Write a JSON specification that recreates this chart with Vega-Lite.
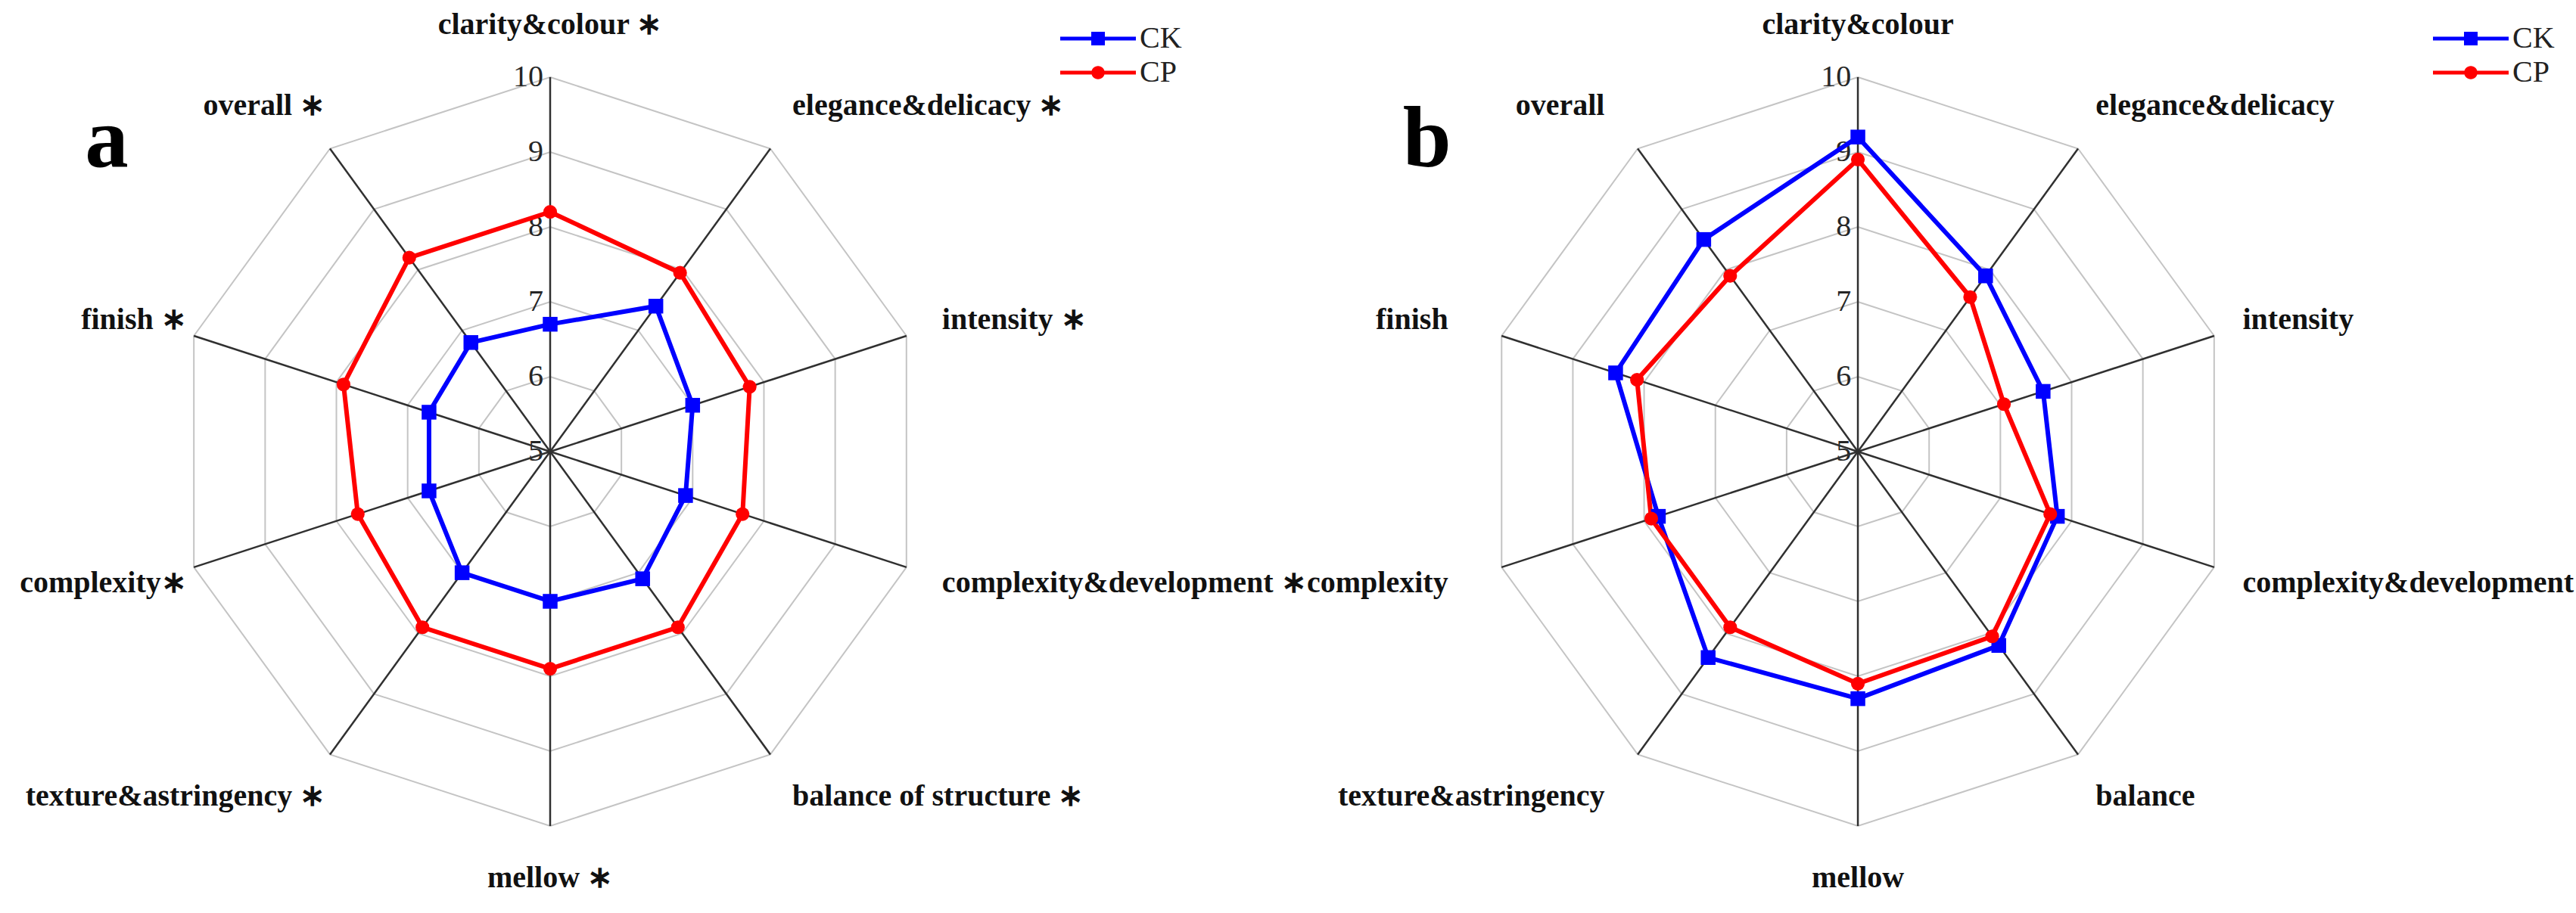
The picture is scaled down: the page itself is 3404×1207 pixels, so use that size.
{
  "$schema": "https://vega.github.io/schema/vega-lite/v6.json",
  "background": "white",
  "padding": 0,
  "spacing": 0,
  "config": {"view": {"stroke": null}, "text": {"font": "Liberation Serif"}, "concat": {"spacing": 0}},
  "resolve": {
    "scale": {"x": "independent", "y": "independent", "color": "independent", "shape": "independent"},
    "legend": {"color": "independent", "shape": "independent"}
  },
  "datasets": {
    "cats": [
      {"panel": "a", "idx": 0, "label": "clarity&colour  ∗"},
      {"panel": "a", "idx": 1, "label": "elegance&delicacy ∗"},
      {"panel": "a", "idx": 2, "label": "intensity ∗"},
      {"panel": "a", "idx": 3, "label": "complexity&development ∗"},
      {"panel": "a", "idx": 4, "label": "balance of  structure ∗"},
      {"panel": "a", "idx": 5, "label": "mellow ∗"},
      {"panel": "a", "idx": 6, "label": "texture&astringency ∗"},
      {"panel": "a", "idx": 7, "label": "complexity∗"},
      {"panel": "a", "idx": 8, "label": "finish ∗"},
      {"panel": "a", "idx": 9, "label": "overall ∗"},
      {"panel": "b", "idx": 0, "label": "clarity&colour"},
      {"panel": "b", "idx": 1, "label": "elegance&delicacy"},
      {"panel": "b", "idx": 2, "label": "intensity"},
      {"panel": "b", "idx": 3, "label": "complexity&development"},
      {"panel": "b", "idx": 4, "label": "balance"},
      {"panel": "b", "idx": 5, "label": "mellow"},
      {"panel": "b", "idx": 6, "label": "texture&astringency"},
      {"panel": "b", "idx": 7, "label": "complexity"},
      {"panel": "b", "idx": 8, "label": "finish"},
      {"panel": "b", "idx": 9, "label": "overall"}
    ],
    "rings": [
      {"idx": 0, "ring": [6, 7, 8, 9, 10]},
      {"idx": 1, "ring": [6, 7, 8, 9, 10]},
      {"idx": 2, "ring": [6, 7, 8, 9, 10]},
      {"idx": 3, "ring": [6, 7, 8, 9, 10]},
      {"idx": 4, "ring": [6, 7, 8, 9, 10]},
      {"idx": 5, "ring": [6, 7, 8, 9, 10]},
      {"idx": 6, "ring": [6, 7, 8, 9, 10]},
      {"idx": 7, "ring": [6, 7, 8, 9, 10]},
      {"idx": 8, "ring": [6, 7, 8, 9, 10]},
      {"idx": 9, "ring": [6, 7, 8, 9, 10]}
    ],
    "ticks": [{"v": 5}, {"v": 6}, {"v": 7}, {"v": 8}, {"v": 9}, {"v": 10}],
    "scores": [
      {"panel": "a", "idx": 0, "group": "CK", "value": 6.7},
      {"panel": "a", "idx": 1, "group": "CK", "value": 7.4},
      {"panel": "a", "idx": 2, "group": "CK", "value": 7.0},
      {"panel": "a", "idx": 3, "group": "CK", "value": 6.9},
      {"panel": "a", "idx": 4, "group": "CK", "value": 7.1},
      {"panel": "a", "idx": 5, "group": "CK", "value": 7.0},
      {"panel": "a", "idx": 6, "group": "CK", "value": 7.0},
      {"panel": "a", "idx": 7, "group": "CK", "value": 6.7},
      {"panel": "a", "idx": 8, "group": "CK", "value": 6.7},
      {"panel": "a", "idx": 9, "group": "CK", "value": 6.8},
      {"panel": "a", "idx": 0, "group": "CP", "value": 8.2},
      {"panel": "a", "idx": 1, "group": "CP", "value": 7.95},
      {"panel": "a", "idx": 2, "group": "CP", "value": 7.8},
      {"panel": "a", "idx": 3, "group": "CP", "value": 7.7},
      {"panel": "a", "idx": 4, "group": "CP", "value": 7.9},
      {"panel": "a", "idx": 5, "group": "CP", "value": 7.9},
      {"panel": "a", "idx": 6, "group": "CP", "value": 7.9},
      {"panel": "a", "idx": 7, "group": "CP", "value": 7.7},
      {"panel": "a", "idx": 8, "group": "CP", "value": 7.9},
      {"panel": "a", "idx": 9, "group": "CP", "value": 8.2},
      {"panel": "b", "idx": 0, "group": "CK", "value": 9.2},
      {"panel": "b", "idx": 1, "group": "CK", "value": 7.9},
      {"panel": "b", "idx": 2, "group": "CK", "value": 7.6},
      {"panel": "b", "idx": 3, "group": "CK", "value": 7.8},
      {"panel": "b", "idx": 4, "group": "CK", "value": 8.2},
      {"panel": "b", "idx": 5, "group": "CK", "value": 8.3},
      {"panel": "b", "idx": 6, "group": "CK", "value": 8.4},
      {"panel": "b", "idx": 7, "group": "CK", "value": 7.8},
      {"panel": "b", "idx": 8, "group": "CK", "value": 8.4},
      {"panel": "b", "idx": 9, "group": "CK", "value": 8.5},
      {"panel": "b", "idx": 0, "group": "CP", "value": 8.9},
      {"panel": "b", "idx": 1, "group": "CP", "value": 7.55},
      {"panel": "b", "idx": 2, "group": "CP", "value": 7.05},
      {"panel": "b", "idx": 3, "group": "CP", "value": 7.7},
      {"panel": "b", "idx": 4, "group": "CP", "value": 8.05},
      {"panel": "b", "idx": 5, "group": "CP", "value": 8.1},
      {"panel": "b", "idx": 6, "group": "CP", "value": 7.9},
      {"panel": "b", "idx": 7, "group": "CP", "value": 7.9},
      {"panel": "b", "idx": 8, "group": "CP", "value": 8.1},
      {"panel": "b", "idx": 9, "group": "CP", "value": 7.9}
    ]
  },
  "hconcat": [
    {
      "width": 1702,
      "height": 1207,
      "layer": [
        {
          "data": {"name": "rings"},
          "transform": [
            {"flatten": ["ring"]},
            {"calculate": "datum.idx * PI / 5", "as": "ang"},
            {"calculate": "(datum.ring - 5) * sin(datum.ang)", "as": "x"},
            {"calculate": "(datum.ring - 5) * cos(datum.ang)", "as": "y"}
          ],
          "mark": {"type": "line", "interpolate": "linear-closed", "stroke": "#c4c4c4", "strokeWidth": 2},
          "encoding": {
            "x": {"field": "x", "type": "quantitative", "scale": {"domain": [-7.343, 9.848], "nice": false, "zero": false}, "axis": null},
            "y": {"field": "y", "type": "quantitative", "scale": {"domain": [-6.162, 6.03], "nice": false, "zero": false}, "axis": null},
            "detail": {"field": "ring", "type": "nominal"},
            "order": {"field": "idx", "type": "quantitative"}
          }
        },
        {
          "data": {"name": "ticks"},
          "transform": [{"calculate": "datum.v - 5", "as": "y"}],
          "mark": {"type": "text", "align": "right", "baseline": "middle", "fontSize": 40, "color": "#262626"},
          "encoding": {
            "x": {"datum": -0.09, "type": "quantitative", "scale": {"domain": [-7.343, 9.848], "nice": false, "zero": false}, "axis": null},
            "y": {"field": "y", "type": "quantitative", "scale": {"domain": [-6.162, 6.03], "nice": false, "zero": false}, "axis": null},
            "text": {"field": "v", "type": "nominal"}
          }
        },
        {
          "data": {"name": "cats"},
          "transform": [
            {"filter": "datum.panel === 'a'"},
            {"calculate": "datum.idx * PI / 5", "as": "ang"},
            {"calculate": "5 * sin(datum.ang)", "as": "x"},
            {"calculate": "5 * cos(datum.ang)", "as": "y"}
          ],
          "mark": {"type": "rule", "stroke": "#303030", "strokeWidth": 2.5},
          "encoding": {
            "x": {"field": "x", "type": "quantitative", "scale": {"domain": [-7.343, 9.848], "nice": false, "zero": false}, "axis": null},
            "y": {"field": "y", "type": "quantitative", "scale": {"domain": [-6.162, 6.03], "nice": false, "zero": false}, "axis": null},
            "x2": {"datum": 0},
            "y2": {"datum": 0}
          }
        },
        {
          "data": {"name": "cats"},
          "transform": [
            {"filter": "datum.panel === 'a'"},
            {"calculate": "datum.idx * PI / 5", "as": "ang"},
            {"calculate": "sin(datum.ang)", "as": "s"},
            {"calculate": "datum.s > 0.1 ? 5.5 * datum.s : (datum.s < -0.1 ? 5.1 * datum.s : 0)", "as": "x"},
            {"calculate": "5.7 * cos(datum.ang)", "as": "y"}
          ],
          "mark": {"type": "text", "fontWeight": "bold", "fontSize": 40, "baseline": "middle", "color": "#111111", "align": {"expr": "datum.s > 0.1 ? 'left' : (datum.s < -0.1 ? 'right' : 'center')"}},
          "encoding": {
            "x": {"field": "x", "type": "quantitative", "scale": {"domain": [-7.343, 9.848], "nice": false, "zero": false}, "axis": null},
            "y": {"field": "y", "type": "quantitative", "scale": {"domain": [-6.162, 6.03], "nice": false, "zero": false}, "axis": null},
            "text": {"field": "label", "type": "nominal"}
          }
        },
        {
          "data": {"name": "scores"},
          "transform": [
            {"filter": "datum.panel === 'a'"},
            {"calculate": "datum.idx * PI / 5", "as": "ang"},
            {"calculate": "(datum.value - 5) * sin(datum.ang)", "as": "x"},
            {"calculate": "(datum.value - 5) * cos(datum.ang)", "as": "y"}
          ],
          "mark": {"type": "line", "interpolate": "linear-closed", "strokeWidth": 6},
          "encoding": {
            "x": {"field": "x", "type": "quantitative", "scale": {"domain": [-7.343, 9.848], "nice": false, "zero": false}, "axis": null},
            "y": {"field": "y", "type": "quantitative", "scale": {"domain": [-6.162, 6.03], "nice": false, "zero": false}, "axis": null},
            "color": {"field": "group", "type": "nominal", "scale": {"domain": ["CK", "CP"], "range": ["#0000ff", "#ff0000"]}},
            "order": {"field": "idx", "type": "quantitative"}
          }
        },
        {
          "data": {"name": "scores"},
          "transform": [
            {"filter": "datum.panel === 'a'"},
            {"calculate": "datum.idx * PI / 5", "as": "ang"},
            {"calculate": "(datum.value - 5) * sin(datum.ang)", "as": "x"},
            {"calculate": "(datum.value - 5) * cos(datum.ang)", "as": "y"}
          ],
          "mark": {"type": "point", "filled": true, "opacity": 1, "size": 60},
          "encoding": {
            "x": {"field": "x", "type": "quantitative", "scale": {"domain": [-7.343, 9.848], "nice": false, "zero": false}, "axis": null},
            "y": {"field": "y", "type": "quantitative", "scale": {"domain": [-6.162, 6.03], "nice": false, "zero": false}, "axis": null},
            "shape": {
              "field": "group", "type": "nominal",
              "scale": {"domain": ["CK", "CP"], "range": ["M-2,-0.1H2V0.1H-2ZM-0.36,-0.36H0.36V0.36H-0.36Z", "M-2,-0.1H2V0.1H-2ZM-0.35,0A0.35,0.35,0,1,1,0.35,0A0.35,0.35,0,1,1,-0.35,0Z"]},
              "legend": {
                "title": null, "orient": "none", "legendX": 1426, "legendY": 26, "padding": 0, "rowPadding": 0,
                "symbolSize": 2500, "symbolStrokeWidth": 0, "symbolOpacity": 1, "labelOffset": 30, "labelFont": "Liberation Serif", "labelFontSize": 40, "labelColor": "#222222"
              }
            },
            "color": {
              "field": "group", "type": "nominal",
              "scale": {"domain": ["CK", "CP"], "range": ["#0000ff", "#ff0000"]},
              "legend": {
                "title": null, "orient": "none", "legendX": 1426, "legendY": 26, "padding": 0, "rowPadding": 0,
                "symbolSize": 2500, "symbolStrokeWidth": 0, "symbolOpacity": 1, "labelOffset": 30, "labelFont": "Liberation Serif", "labelFontSize": 40, "labelColor": "#222222"
              }
            }
          }
        },
        {
          "data": {"name": "scores"},
          "transform": [
            {"filter": "datum.panel === 'a' && datum.group === 'CK'"},
            {"calculate": "datum.idx * PI / 5", "as": "ang"},
            {"calculate": "(datum.value - 5) * sin(datum.ang)", "as": "x"},
            {"calculate": "(datum.value - 5) * cos(datum.ang)", "as": "y"}
          ],
          "mark": {"type": "point", "shape": "square", "filled": true, "opacity": 1, "size": 380, "color": "#0000ff"},
          "encoding": {
            "x": {"field": "x", "type": "quantitative", "scale": {"domain": [-7.343, 9.848], "nice": false, "zero": false}, "axis": null},
            "y": {"field": "y", "type": "quantitative", "scale": {"domain": [-6.162, 6.03], "nice": false, "zero": false}, "axis": null}
          }
        },
        {
          "data": {"name": "scores"},
          "transform": [
            {"filter": "datum.panel === 'a' && datum.group === 'CP'"},
            {"calculate": "datum.idx * PI / 5", "as": "ang"},
            {"calculate": "(datum.value - 5) * sin(datum.ang)", "as": "x"},
            {"calculate": "(datum.value - 5) * cos(datum.ang)", "as": "y"}
          ],
          "mark": {"type": "point", "shape": "circle", "filled": true, "opacity": 1, "size": 330, "color": "#ff0000"},
          "encoding": {
            "x": {"field": "x", "type": "quantitative", "scale": {"domain": [-7.343, 9.848], "nice": false, "zero": false}, "axis": null},
            "y": {"field": "y", "type": "quantitative", "scale": {"domain": [-6.162, 6.03], "nice": false, "zero": false}, "axis": null}
          }
        },
        {
          "data": {"values": [{"t": "a"}]},
          "mark": {"type": "text", "fontSize": 115, "fontWeight": "bold", "align": "center", "baseline": "alphabetic", "color": "#000000"},
          "encoding": {
            "x": {"datum": -5.92, "type": "quantitative", "scale": {"domain": [-7.343, 9.848], "nice": false, "zero": false}, "axis": null},
            "y": {"datum": 3.81, "type": "quantitative", "scale": {"domain": [-6.162, 6.03], "nice": false, "zero": false}, "axis": null},
            "text": {"field": "t", "type": "nominal"}
          }
        }
      ]
    },
    {
      "width": 1702,
      "height": 1207,
      "layer": [
        {
          "data": {"name": "rings"},
          "transform": [
            {"flatten": ["ring"]},
            {"calculate": "datum.idx * PI / 5", "as": "ang"},
            {"calculate": "(datum.ring - 5) * sin(datum.ang)", "as": "x"},
            {"calculate": "(datum.ring - 5) * cos(datum.ang)", "as": "y"}
          ],
          "mark": {"type": "line", "interpolate": "linear-closed", "stroke": "#c4c4c4", "strokeWidth": 2},
          "encoding": {
            "x": {"field": "x", "type": "quantitative", "scale": {"domain": [-7.253, 9.939], "nice": false, "zero": false}, "axis": null},
            "y": {"field": "y", "type": "quantitative", "scale": {"domain": [-6.162, 6.03], "nice": false, "zero": false}, "axis": null},
            "detail": {"field": "ring", "type": "nominal"},
            "order": {"field": "idx", "type": "quantitative"}
          }
        },
        {
          "data": {"name": "ticks"},
          "transform": [{"calculate": "datum.v - 5", "as": "y"}],
          "mark": {"type": "text", "align": "right", "baseline": "middle", "fontSize": 40, "color": "#262626"},
          "encoding": {
            "x": {"datum": -0.09, "type": "quantitative", "scale": {"domain": [-7.253, 9.939], "nice": false, "zero": false}, "axis": null},
            "y": {"field": "y", "type": "quantitative", "scale": {"domain": [-6.162, 6.03], "nice": false, "zero": false}, "axis": null},
            "text": {"field": "v", "type": "nominal"}
          }
        },
        {
          "data": {"name": "cats"},
          "transform": [
            {"filter": "datum.panel === 'b'"},
            {"calculate": "datum.idx * PI / 5", "as": "ang"},
            {"calculate": "5 * sin(datum.ang)", "as": "x"},
            {"calculate": "5 * cos(datum.ang)", "as": "y"}
          ],
          "mark": {"type": "rule", "stroke": "#303030", "strokeWidth": 2.5},
          "encoding": {
            "x": {"field": "x", "type": "quantitative", "scale": {"domain": [-7.253, 9.939], "nice": false, "zero": false}, "axis": null},
            "y": {"field": "y", "type": "quantitative", "scale": {"domain": [-6.162, 6.03], "nice": false, "zero": false}, "axis": null},
            "x2": {"datum": 0},
            "y2": {"datum": 0}
          }
        },
        {
          "data": {"name": "cats"},
          "transform": [
            {"filter": "datum.panel === 'b'"},
            {"calculate": "datum.idx * PI / 5", "as": "ang"},
            {"calculate": "sin(datum.ang)", "as": "s"},
            {"calculate": "datum.s > 0.1 ? 5.4 * datum.s : (datum.s < -0.1 ? 5.75 * datum.s : 0)", "as": "x"},
            {"calculate": "5.7 * cos(datum.ang)", "as": "y"}
          ],
          "mark": {"type": "text", "fontWeight": "bold", "fontSize": 40, "baseline": "middle", "color": "#111111", "align": {"expr": "datum.s > 0.1 ? 'left' : (datum.s < -0.1 ? 'right' : 'center')"}},
          "encoding": {
            "x": {"field": "x", "type": "quantitative", "scale": {"domain": [-7.253, 9.939], "nice": false, "zero": false}, "axis": null},
            "y": {"field": "y", "type": "quantitative", "scale": {"domain": [-6.162, 6.03], "nice": false, "zero": false}, "axis": null},
            "text": {"field": "label", "type": "nominal"}
          }
        },
        {
          "data": {"name": "scores"},
          "transform": [
            {"filter": "datum.panel === 'b'"},
            {"calculate": "datum.idx * PI / 5", "as": "ang"},
            {"calculate": "(datum.value - 5) * sin(datum.ang)", "as": "x"},
            {"calculate": "(datum.value - 5) * cos(datum.ang)", "as": "y"}
          ],
          "mark": {"type": "line", "interpolate": "linear-closed", "strokeWidth": 6},
          "encoding": {
            "x": {"field": "x", "type": "quantitative", "scale": {"domain": [-7.253, 9.939], "nice": false, "zero": false}, "axis": null},
            "y": {"field": "y", "type": "quantitative", "scale": {"domain": [-6.162, 6.03], "nice": false, "zero": false}, "axis": null},
            "color": {"field": "group", "type": "nominal", "scale": {"domain": ["CK", "CP"], "range": ["#0000ff", "#ff0000"]}},
            "order": {"field": "idx", "type": "quantitative"}
          }
        },
        {
          "data": {"name": "scores"},
          "transform": [
            {"filter": "datum.panel === 'b'"},
            {"calculate": "datum.idx * PI / 5", "as": "ang"},
            {"calculate": "(datum.value - 5) * sin(datum.ang)", "as": "x"},
            {"calculate": "(datum.value - 5) * cos(datum.ang)", "as": "y"}
          ],
          "mark": {"type": "point", "filled": true, "opacity": 1, "size": 60},
          "encoding": {
            "x": {"field": "x", "type": "quantitative", "scale": {"domain": [-7.253, 9.939], "nice": false, "zero": false}, "axis": null},
            "y": {"field": "y", "type": "quantitative", "scale": {"domain": [-6.162, 6.03], "nice": false, "zero": false}, "axis": null},
            "shape": {
              "field": "group", "type": "nominal",
              "scale": {"domain": ["CK", "CP"], "range": ["M-2,-0.1H2V0.1H-2ZM-0.36,-0.36H0.36V0.36H-0.36Z", "M-2,-0.1H2V0.1H-2ZM-0.35,0A0.35,0.35,0,1,1,0.35,0A0.35,0.35,0,1,1,-0.35,0Z"]},
              "legend": {
                "title": null, "orient": "none", "legendX": 1503, "legendY": 26, "padding": 0, "rowPadding": 0,
                "symbolSize": 2500, "symbolStrokeWidth": 0, "symbolOpacity": 1, "labelOffset": 30, "labelFont": "Liberation Serif", "labelFontSize": 40, "labelColor": "#222222"
              }
            },
            "color": {
              "field": "group", "type": "nominal",
              "scale": {"domain": ["CK", "CP"], "range": ["#0000ff", "#ff0000"]},
              "legend": {
                "title": null, "orient": "none", "legendX": 1503, "legendY": 26, "padding": 0, "rowPadding": 0,
                "symbolSize": 2500, "symbolStrokeWidth": 0, "symbolOpacity": 1, "labelOffset": 30, "labelFont": "Liberation Serif", "labelFontSize": 40, "labelColor": "#222222"
              }
            }
          }
        },
        {
          "data": {"name": "scores"},
          "transform": [
            {"filter": "datum.panel === 'b' && datum.group === 'CK'"},
            {"calculate": "datum.idx * PI / 5", "as": "ang"},
            {"calculate": "(datum.value - 5) * sin(datum.ang)", "as": "x"},
            {"calculate": "(datum.value - 5) * cos(datum.ang)", "as": "y"}
          ],
          "mark": {"type": "point", "shape": "square", "filled": true, "opacity": 1, "size": 380, "color": "#0000ff"},
          "encoding": {
            "x": {"field": "x", "type": "quantitative", "scale": {"domain": [-7.253, 9.939], "nice": false, "zero": false}, "axis": null},
            "y": {"field": "y", "type": "quantitative", "scale": {"domain": [-6.162, 6.03], "nice": false, "zero": false}, "axis": null}
          }
        },
        {
          "data": {"name": "scores"},
          "transform": [
            {"filter": "datum.panel === 'b' && datum.group === 'CP'"},
            {"calculate": "datum.idx * PI / 5", "as": "ang"},
            {"calculate": "(datum.value - 5) * sin(datum.ang)", "as": "x"},
            {"calculate": "(datum.value - 5) * cos(datum.ang)", "as": "y"}
          ],
          "mark": {"type": "point", "shape": "circle", "filled": true, "opacity": 1, "size": 330, "color": "#ff0000"},
          "encoding": {
            "x": {"field": "x", "type": "quantitative", "scale": {"domain": [-7.253, 9.939], "nice": false, "zero": false}, "axis": null},
            "y": {"field": "y", "type": "quantitative", "scale": {"domain": [-6.162, 6.03], "nice": false, "zero": false}, "axis": null}
          }
        },
        {
          "data": {"values": [{"t": "b"}]},
          "mark": {"type": "text", "fontSize": 115, "fontWeight": "bold", "align": "center", "baseline": "alphabetic", "color": "#000000"},
          "encoding": {
            "x": {"datum": -5.75, "type": "quantitative", "scale": {"domain": [-7.253, 9.939], "nice": false, "zero": false}, "axis": null},
            "y": {"datum": 3.81, "type": "quantitative", "scale": {"domain": [-6.162, 6.03], "nice": false, "zero": false}, "axis": null},
            "text": {"field": "t", "type": "nominal"}
          }
        }
      ]
    }
  ]
}
